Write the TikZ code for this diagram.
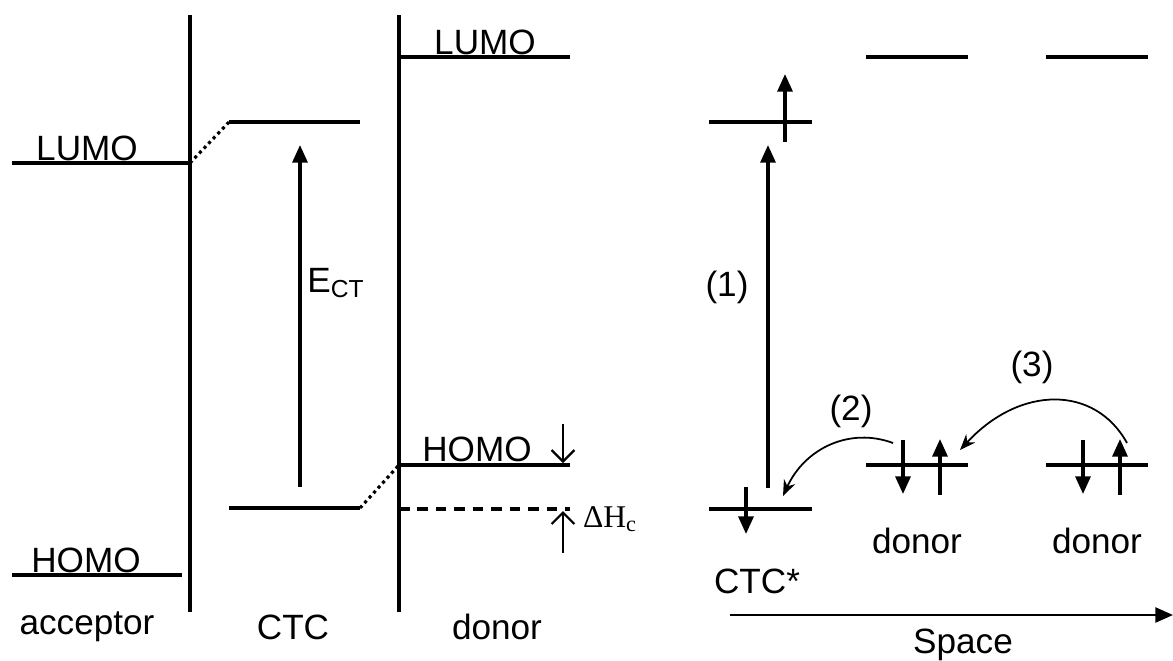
\documentclass[tikz,border=0pt]{standalone}
\usepackage{fontspec}
\setmainfont{Liberation Sans}
\newfontfamily\serifface{Liberation Serif}
\usetikzlibrary{arrows.meta, calc}

\begin{document}
\begin{tikzpicture}[x=0.02cm, y=-0.02cm,
    level/.style={line width=1.8pt},
    lbl/.style={font=\fontsize{20}{24}\selectfont, inner sep=0pt},
    spin/.style={line width=1.8pt, -{Triangle[length=10pt, width=8.5pt]}},
    gap/.style={line width=1.3pt, -{Straight Barb[length=6.5pt, width=13pt]}},
    hop/.style={line width=1pt, -{Stealth[length=9pt, width=7pt]}}]
            \useasboundingbox (0,0) rectangle (1173,660);
            \def\top{15}     % top of the column lines
            \def\bot{612}    % bottom of the column lines
            % column separators
            \draw[level] (190,\top) -- (190,\bot);
            \draw[level] (399,\top) -- (399,\bot);
            % acceptor levels
            \coordinate (accL) at (190,163);
            \coordinate (accH) at (190,575);
            \draw[level] (12,163) -- (accL);
            \draw[level] (12,575) -- (182,575);
            \node[lbl] (accLt) at (87,148) {LUMO};
            \node[lbl] (accHt) at (86,560) {HOMO};
            % CTC levels
            \coordinate (ctcL) at (229,122);
            \coordinate (ctcH) at (360,508);
            \draw[level] (ctcL) -- (360,122);
            \draw[level] (229,508) -- (ctcH);
            % donor levels
            \coordinate (donH) at (399,465);
            \draw[level] (399,57) -- (570,57);
            \draw[level] (donH) -- (570,465);
            \draw[level, dashed, dash pattern=on 6pt off 4.5pt] (399,509) -- (570,509);
            \node[lbl] (donLt) at (485,42) {LUMO};
            \node[lbl] (donHt) at (477,449) {HOMO};
            % correlation lines
            \draw[line width=1.8pt, dotted] (accL) -- (ctcL);
            \draw[line width=1.8pt, dotted] (ctcH) -- (donH);
            % charge transfer energy
            \coordinate (ectA) at (300,487);
            \coordinate (ectB) at (300,145);
            \draw[spin] (ectA) -- (ectB);
            \node[lbl] (ect) at (336,283) {E\textsubscript{CT}};
            % stabilisation
            \draw[gap] (563,424) -- (563,463);
            \draw[gap] (563,553) -- (563,511);
            \node[inner sep=0pt, font=\serifface\fontsize{18}{22}\selectfont] (dH) at (610,519) {ΔH\textsubscript{c}};
            % column names
            \node[lbl] (acc) at (87,627) {acceptor};
            \node[lbl] (ctc) at (293,627) {CTC};
            \node[lbl] (don) at (497,627) {donor};
            % excited complex
            \draw[level] (709,122) -- (812,122);
            \draw[level] (709,509) -- (812,509);
            \draw[spin] (785,142) -- (785,74);
            \draw[spin] (746,487) -- (746,534);
            \coordinate (exA) at (768,488);
            \coordinate (exB) at (768,145);
            \draw[spin] (exA) -- (exB);
            \node[lbl] (one) at (727,287) {(1)};
            \node[lbl] (ctcs) at (757,581) {CTC*};
            % neighbouring donors
            \foreach \x/\n in {866/a, 1046/b} {
                \draw[level] (\x,57) -- (\x+102,57);
                \draw[level] (\x,465) -- (\x+102,465);
                \draw[spin] (\x+37,440) -- (\x+37,494);
                \draw[spin] (\x+74,495) -- (\x+74,439);
                \node[lbl] (don\n) at (\x+51,541) {donor};
            };
            % hopping
            \coordinate (h2a) at (893,443);
            \coordinate (h2b) at (783,496);
            \coordinate (h3a) at (1127,443);
            \coordinate (h3b) at (960,450);
            \draw[hop] (h2a) .. controls (850,427) and (805,448) .. (h2b);
            \draw[hop] (h3a) .. controls (1095,385) and (1020,385) .. (h3b);
            \node[lbl] (two) at (851,411) {(2)};
            \node[lbl] (three) at (1032,367) {(3)};
            % space axis
            \coordinate (sA) at (730,615);
            \coordinate (sB) at (1173,615);
            \draw[line width=1.4pt, -{Triangle[length=10pt, width=8.5pt]}] (sA) -- (sB);
            \node[lbl] (space) at (963,645) {Space};
        \end{tikzpicture}
\end{document}
